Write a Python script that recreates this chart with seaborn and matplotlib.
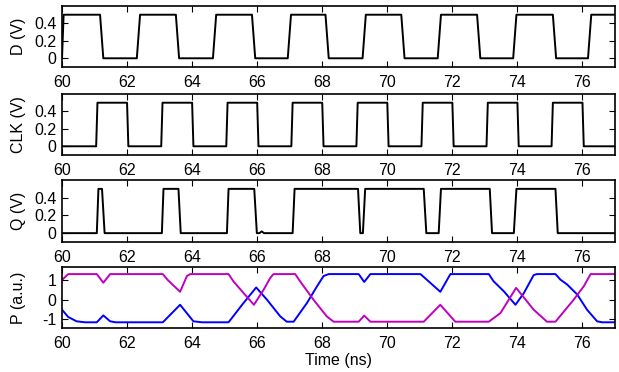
import numpy as np
import pandas as pd
import matplotlib
matplotlib.use("Agg")
import matplotlib.pyplot as plt
import seaborn as sns

# Data input D (V)
d_time = [60.0, 60.05, 61.17, 61.27, 62.3, 62.4, 63.5, 63.6, 64.64, 64.74,
          65.84, 65.94, 66.94, 67.04, 68.1, 68.2, 69.24, 69.34, 70.43, 70.53,
          71.55, 71.65, 72.76, 72.86, 73.87, 73.97, 75.09, 75.19, 76.17, 76.27, 77.0]
d_volt = [0.0, 0.5, 0.5, 0.0, 0.0, 0.5, 0.5, 0.0, 0.0, 0.5,
          0.5, 0.0, 0.0, 0.5, 0.5, 0.0, 0.0, 0.5, 0.5, 0.0,
          0.0, 0.5, 0.5, 0.0, 0.0, 0.5, 0.5, 0.0, 0.0, 0.5, 0.5]

# Clock CLK (V)
clk_time = [60.0, 61.05, 61.09, 62.0, 62.04, 63.05, 63.09, 64.0, 64.04,
            65.05, 65.09, 66.0, 66.04, 67.05, 67.09, 68.0, 68.04, 69.05, 69.09,
            70.0, 70.04, 71.05, 71.09, 72.0, 72.04, 73.05, 73.09, 74.0, 74.04,
            75.05, 75.09, 76.0, 76.04, 77.0]
clk_volt = [0.0, 0.0, 0.5, 0.5, 0.0, 0.0, 0.5, 0.5, 0.0,
            0.0, 0.5, 0.5, 0.0, 0.0, 0.5, 0.5, 0.0, 0.0, 0.5,
            0.5, 0.0, 0.0, 0.5, 0.5, 0.0, 0.0, 0.5, 0.5, 0.0,
            0.0, 0.5, 0.5, 0.0, 0.0]

# Output Q (V)
q_time = [60.0, 61.07, 61.12, 61.23, 61.31, 63.07, 63.12, 63.58, 63.65,
          65.07, 65.12, 65.91, 65.99, 66.07, 66.14, 66.21, 67.09, 67.15,
          69.1, 69.17, 69.25, 69.32, 71.12, 71.2, 71.58, 71.65,
          73.15, 73.22, 73.89, 73.97, 75.17, 75.24, 77.0]
q_volt = [0.0, 0.0, 0.5, 0.5, 0.0, 0.0, 0.5, 0.5, 0.0,
          0.0, 0.5, 0.5, 0.0, 0.0, 0.02, 0.0, 0.0, 0.5,
          0.5, 0.0, 0.0, 0.5, 0.5, 0.0, 0.0, 0.5,
          0.5, 0.0, 0.0, 0.5, 0.5, 0.0, 0.0]

# Polarisation P (a.u.), two components
p1_time = [60.0, 60.19, 60.45, 60.7, 61.07, 61.27, 61.48, 61.65, 63.1, 63.63,
           64.04, 64.3, 65.12, 65.58, 65.97, 66.3, 66.71, 66.91, 67.12, 67.53,
           67.84, 68.04, 68.2, 69.12, 69.29, 69.48, 71.02, 71.63, 71.94, 73.12,
           73.27, 73.58, 73.94, 74.2, 74.5, 74.6, 75.17, 75.32, 75.53, 75.84,
           76.14, 76.45, 76.6, 77.0]
p1_val = [-0.51, -0.88, -1.1, -1.15, -1.15, -0.8, -1.1, -1.15, -1.15, -0.26,
          -1.1, -1.15, -1.15, -0.17, 0.62, 0.0, -0.85, -1.12, -1.12, -0.17,
          0.68, 1.2, 1.3, 1.3, 0.9, 1.3, 1.3, 0.4, 1.3, 1.3,
          0.93, 0.43, -0.26, 0.34, 1.25, 1.3, 1.3, 1.02, 0.77, 0.26,
          -0.51, -1.1, -1.15, -1.15]

p2_time = [60.0, 60.19, 61.07, 61.27, 61.48, 63.1, 63.25, 63.63, 63.84, 63.94,
           65.12, 65.27, 65.58, 65.9, 66.2, 66.4, 66.5, 67.17, 67.32, 67.73,
           68.14, 68.35, 69.12, 69.29, 69.48, 71.12, 71.63, 72.09, 73.12, 73.48,
           73.96, 74.5, 74.91, 75.17, 75.73, 76.04, 76.25, 77.0]
p2_val = [1.0, 1.3, 1.3, 0.86, 1.3, 1.3, 1.0, 0.4, 1.2, 1.3,
          1.3, 0.93, 0.34, -0.26, 0.51, 1.1, 1.3, 1.3, 0.93, 0.0,
          -0.85, -1.12, -1.12, -0.81, -1.12, -1.12, -0.26, -1.12, -1.12, -0.68,
          0.6, -0.51, -1.12, -1.12, 0.0, 0.68, 1.3, 1.3]

x_ticks = [60, 62, 64, 66, 68, 70, 72, 74, 76]
v_ticks = [0, 0.2, 0.4]
v_ticklabels = ["0", "0.2", "0.4"]
p_ticks = [-1, 0, 1]
p_ticklabels = ["-1", "0", "1"]

sns.set_theme(style="ticks")
plt.rcParams["font.family"] = ["Liberation Sans", "DejaVu Sans"]
plt.rcParams["axes.linewidth"] = 1.0
plt.rcParams["axes.edgecolor"] = "black"

W, H = 619, 372
fig = plt.figure(figsize=(W / 100, H / 100), dpi=100)
fig.patch.set_facecolor("white")

left, right = 62, 615
panels = [(6, 67), (94, 155), (180, 242), (267, 328)]
axes = []
for top, bot in panels:
    ax = fig.add_axes([left / W, 1 - bot / H, (right - left) / W, (bot - top) / H])
    axes.append(ax)

fs = 11.5


def style(ax, ylabel, yticks, yticklabels, ylim):
    ax.set_xlim(60, 77)
    ax.set_ylim(*ylim)
    ax.set_xticks(x_ticks)
    ax.set_xticklabels([str(t) for t in x_ticks])
    ax.set_yticks(yticks)
    ax.set_yticklabels(yticklabels)
    ax.tick_params(direction="in", top=True, right=True, length=4, width=0.8,
                   colors="black", labelsize=fs, pad=4)
    ax.tick_params(axis="x", pad=6)
    for s in ax.spines.values():
        s.set_visible(True)
        s.set_color("black")
        s.set_linewidth(1.2)
    ax.set_facecolor("white")
    ax.grid(False)
    ax.set_xlabel("")
    ax.set_ylabel(ylabel, fontsize=fs, color="black")
    ax.yaxis.set_label_coords(-0.066, 0.5)
    if ax.get_legend() is not None:
        ax.get_legend().remove()


df_d = pd.DataFrame({"t": d_time, "v": d_volt})
sns.lineplot(data=df_d, x="t", y="v", ax=axes[0], color="black", lw=1.4,
             estimator=None, sort=False)
style(axes[0], "D (V)", v_ticks, v_ticklabels, (-0.1, 0.6))

df_c = pd.DataFrame({"t": clk_time, "v": clk_volt})
sns.lineplot(data=df_c, x="t", y="v", ax=axes[1], color="black", lw=1.4,
             estimator=None, sort=False)
style(axes[1], "CLK (V)", v_ticks, v_ticklabels, (-0.1, 0.6))

df_q = pd.DataFrame({"t": q_time, "v": q_volt})
sns.lineplot(data=df_q, x="t", y="v", ax=axes[2], color="black", lw=1.4,
             estimator=None, sort=False)
style(axes[2], "Q (V)", v_ticks, v_ticklabels, (-0.1, 0.6))

df_p = pd.concat([
    pd.DataFrame({"t": p1_time, "v": p1_val, "comp": "P1"}),
    pd.DataFrame({"t": p2_time, "v": p2_val, "comp": "P2"}),
])
sns.lineplot(data=df_p, x="t", y="v", hue="comp", ax=axes[3],
             palette={"P1": "#0000ff", "P2": "#c000c0"}, lw=1.4,
             estimator=None, sort=False, legend=False)
style(axes[3], "P (a.u.)", p_ticks, p_ticklabels, (-1.44, 1.66))
axes[3].set_xlabel("Time (ns)", fontsize=fs, color="black", labelpad=1)

fig.savefig("out.png", dpi=100, facecolor="white")
